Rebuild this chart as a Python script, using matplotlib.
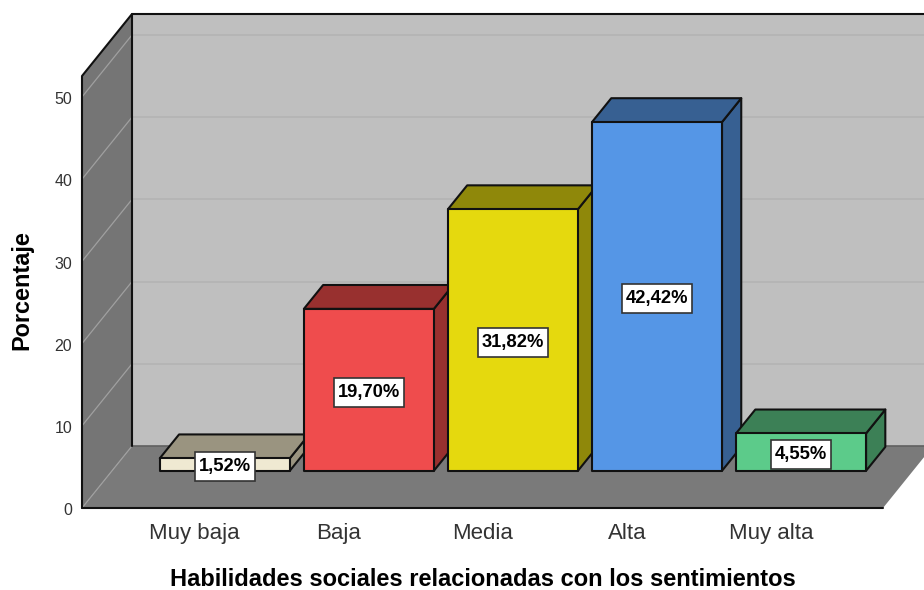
import matplotlib
matplotlib.use("Agg")
import matplotlib.pyplot as plt
from matplotlib.patches import Polygon
from matplotlib.path import Path
from matplotlib.transforms import ScaledTranslation

categories = ["Muy baja", "Baja", "Media", "Alta", "Muy alta"]
values = [1.52, 19.70, 31.82, 42.42, 4.55]
labels = ["1,52%", "19,70%", "31,82%", "42,42%", "4,55%"]
front_colors = ["#EFE9D2", "#EF4C4D", "#E5D90E", "#5596E6", "#5CCB8A"]
top_colors = ["#9A9480", "#98302F", "#8F880A", "#376092", "#3C8056"]
y_ticks = [0, 10, 20, 30, 40, 50]

W, H = 924, 590
L, R, B, T = 82, 883, 508, 76
fig = plt.figure(figsize=(W / 100, H / 100), dpi=100, facecolor="white")
ax = fig.add_axes([L / W, 1 - B / H, (R - L) / W, (B - T) / H])
XMIN, XMAX, YMAX = -0.783, 4.777, 52.55
ax.set_xlim(XMIN, XMAX)
ax.set_ylim(0, YMAX)
ax.patch.set_visible(False)
for s in ax.spines.values():
    s.set_visible(False)

ux = (XMAX - XMIN) / (R - L)
uy = YMAX / (B - T)
DX, DY = 50 * ux, 62 * uy


def p(x, y, d):
    return (x + d * DX, y + d * DY)


def poly(pts, fc, ec="none", lw=0.0, z=1):
    ax.add_patch(Polygon(pts, closed=True, facecolor=fc, edgecolor=ec,
                         linewidth=lw, zorder=z, clip_on=False, joinstyle="round"))


def line(pts, color, lw, z=2):
    xs, ys = zip(*pts)
    ax.plot(xs, ys, color=color, lw=lw, zorder=z, clip_on=False, solid_capstyle="round")


def label_box(x0, y0, width, height, mutation_size):
    """Rectangle around a text: 4 px side padding, fixed 29 px height."""
    x0 -= 4
    width += 8
    y0 -= (29 - height) / 2
    height = 29
    return Path([(x0, y0), (x0 + width, y0), (x0 + width, y0 + height),
                 (x0, y0 + height), (x0, y0)], closed=True)


# walls and floor
poly([p(XMIN, 0, 1), p(XMAX, 0, 1), p(XMAX, YMAX, 1), p(XMIN, YMAX, 1)], "#BFBFBF")
poly([p(XMIN, 0, 0), p(XMIN, 0, 1), p(XMIN, YMAX, 1), p(XMIN, YMAX, 0)], "#757575")
poly([p(XMIN, 0, 0), p(XMAX, 0, 0), p(XMAX, 0, 1), p(XMIN, 0, 1)], "#7A7A7A")

# gridlines
for t in y_ticks:
    if t:
        line([p(XMIN, t, 1), p(XMAX, t, 1)], "#B2B2B2", 1.1)
    line([p(XMIN, t, 0), p(XMIN, t, 1)], "#A0A0A0", 0.9)

# frame
line([p(XMIN, 0, 1), p(XMAX, 0, 1)], "#606060", 1.2)
line([p(XMIN, 0, 0), p(XMIN, YMAX, 0), p(XMIN, YMAX, 1), p(XMAX, YMAX, 1)], "#111111", 1.5, 3)
line([p(XMIN, 0, 1), p(XMIN, YMAX, 1)], "#111111", 1.5, 3)
line([p(XMIN, 0, 0), p(XMAX, 0, 0)], "#111111", 1.5, 3)

# bars
D0, D1 = 0.6, 0.985
HALF = 65 * ux
for i, (v, fc, tc) in enumerate(zip(values, front_colors, top_colors)):
    x0, x1 = i - HALF, i + HALF
    z = 5 + i
    poly([p(x1, 0, D0), p(x1, 0, D1), p(x1, v, D1), p(x1, v, D0)], tc, "#111111", 1.5, z)
    poly([p(x0, v, D0), p(x1, v, D0), p(x1, v, D1), p(x0, v, D1)], tc, "#111111", 1.5, z)
    poly([p(x0, 0, D0), p(x1, 0, D0), p(x1, v, D0), p(x0, v, D0)], fc, "#111111", 1.5, z)

for i, (v, s) in enumerate(zip(values, labels)):
    ax.annotate(s, xy=p(i, v / 2, D0), xytext=(0, -1.6), textcoords="offset points",
                ha="center", va="center", zorder=20, annotation_clip=False,
                family="Liberation Sans", fontweight="bold",
                fontsize=13.2, color="black",
                bbox=dict(boxstyle=label_box, fc="white", ec="#333333", lw=1.2))

ax.set_xticks(range(len(categories)))
ax.set_xticklabels(categories, family="Liberation Sans", fontsize=16, color="#333333")
ax.set_yticks(y_ticks)
ax.set_yticklabels([str(t) for t in y_ticks], family="Liberation Sans", fontsize=11.5, color="#333333")
ax.tick_params(axis="x", length=0, pad=10.5)
ax.tick_params(axis="y", length=0, pad=7)
shift = ScaledTranslation(0, -0.9 / 72, fig.dpi_scale_trans)
for lab in ax.get_yticklabels():
    lab.set_transform(lab.get_transform() + shift)

ax.set_xlabel("Habilidades sociales relacionadas con los sentimientos",
              family="Liberation Sans", fontweight="bold", fontsize=17, color="black")
ax.xaxis.set_label_coords(0.5, -(580 - B) / (B - T), transform=ax.transAxes)
ax.xaxis.label.set_va("center")
ax.set_ylabel("Porcentaje", family="Liberation Sans", fontweight="bold", fontsize=16.9, color="black")
ax.yaxis.set_label_coords(-(L - 22) / (R - L), (B - 290.5) / (B - T), transform=ax.transAxes)
ax.yaxis.label.set_va("center")

fig.savefig("out.png", dpi=100, facecolor="white")
